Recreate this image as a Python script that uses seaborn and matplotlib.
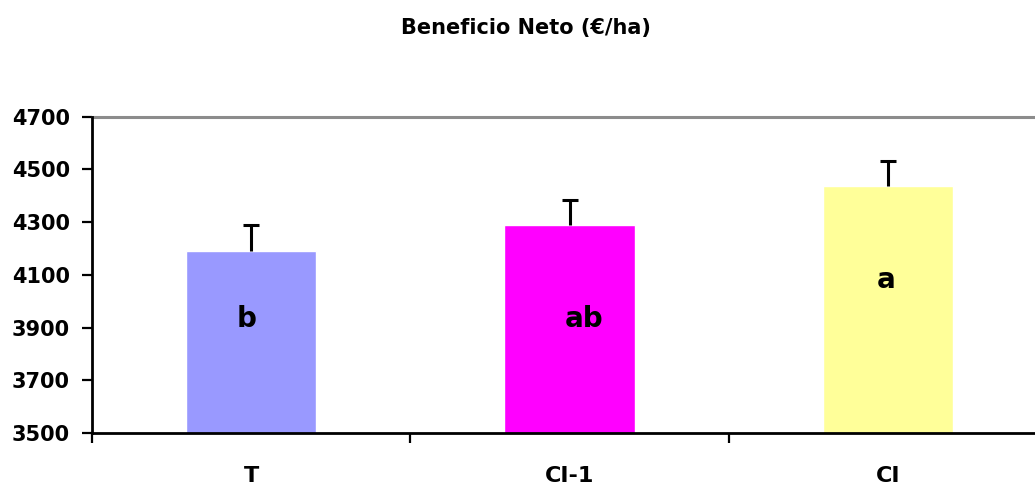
import matplotlib
matplotlib.use("Agg")
import matplotlib.pyplot as plt
import seaborn as sns
import pandas as pd
import numpy as np

# Net profit per treatment (€/ha) with upper standard error and significance letters
treatments = ["T", "CI-1", "CI"]
profit = [4189, 4287, 4438]
std_err = [98, 95, 94]
letters = ["b", "ab", "a"]
letter_y = [3902, 3902, 4050]
letter_dx = [-0.016, 0.045, -0.004]
bar_colors = ["#9999FF", "#FF00FF", "#FFFF99"]
y_ticks = [3500, 3700, 3900, 4100, 4300, 4500, 4700]

sns.set_theme(style="white")
plt.rcParams["font.family"] = ["DejaVu Sans"]
plt.rcParams["font.weight"] = "bold"
plt.rcParams["text.color"] = "black"
plt.rcParams["xtick.color"] = "black"
plt.rcParams["ytick.color"] = "black"
plt.rcParams["xtick.labelcolor"] = "black"
plt.rcParams["ytick.labelcolor"] = "black"

df = pd.DataFrame({"Tratamiento": treatments, "Beneficio": profit})

fig = plt.figure(figsize=(10.35, 4.86), dpi=100)
ax = fig.add_axes([92 / 1035, 53 / 486, 955 / 1035, 316.5 / 486])

sns.barplot(data=df, x="Tratamiento", y="Beneficio", hue="Tratamiento",
            palette=bar_colors, width=0.41, errorbar=None, legend=False,
            saturation=1, ax=ax, zorder=2)

xs = np.arange(len(treatments))
_, caps, _ = ax.errorbar(xs, profit, yerr=[np.zeros(len(profit)), std_err],
                         fmt="none", ecolor="black", elinewidth=2.2,
                         capsize=6, capthick=2.2, zorder=3)
# keep only the upper cap (the lower one sits on the bar top)
caps[0].set_visible(False)

for x, lab, ly, dx in zip(xs, letters, letter_y, letter_dx):
    ax.text(x + dx, ly, lab, ha="center", va="baseline",
            fontsize=20, fontweight="bold", color="black", zorder=4)

ax.set_xlim(-0.5, 2.5)
ax.set_ylim(3500, 4700)
ax.set_yticks(y_ticks)
ax.set_yticklabels([str(v) for v in y_ticks], fontsize=15, fontweight="bold",
                   color="black")
ax.set_xticks(xs)
ax.set_xticklabels(treatments, fontsize=16, fontweight="bold", color="black")
ax.set_xticks([-0.5, 0.5, 1.5, 2.5], minor=True)

ax.tick_params(axis="y", which="major", direction="out", length=7, width=1.6,
               color="black", pad=9, left=True)
ax.tick_params(axis="x", which="major", length=0, pad=24)
ax.tick_params(axis="x", which="minor", direction="out", length=7.5, width=1.6,
               color="black", bottom=True)

ax.axhline(4700, color="#8c8c8c", lw=2.2, zorder=1, clip_on=False)

for side in ["top", "right"]:
    ax.spines[side].set_visible(False)
for side in ["left", "bottom"]:
    ax.spines[side].set_color("black")
    ax.spines[side].set_linewidth(2)

ax.set_xlabel("")
ax.set_ylabel("")
ax.grid(False)

fig.text(526 / 1035, 1 - 28 / 486, "Beneficio Neto (€/ha)", ha="center",
         va="center", fontsize=15, fontweight="bold", color="black")

fig.savefig("out.png", dpi=100, facecolor="white")
